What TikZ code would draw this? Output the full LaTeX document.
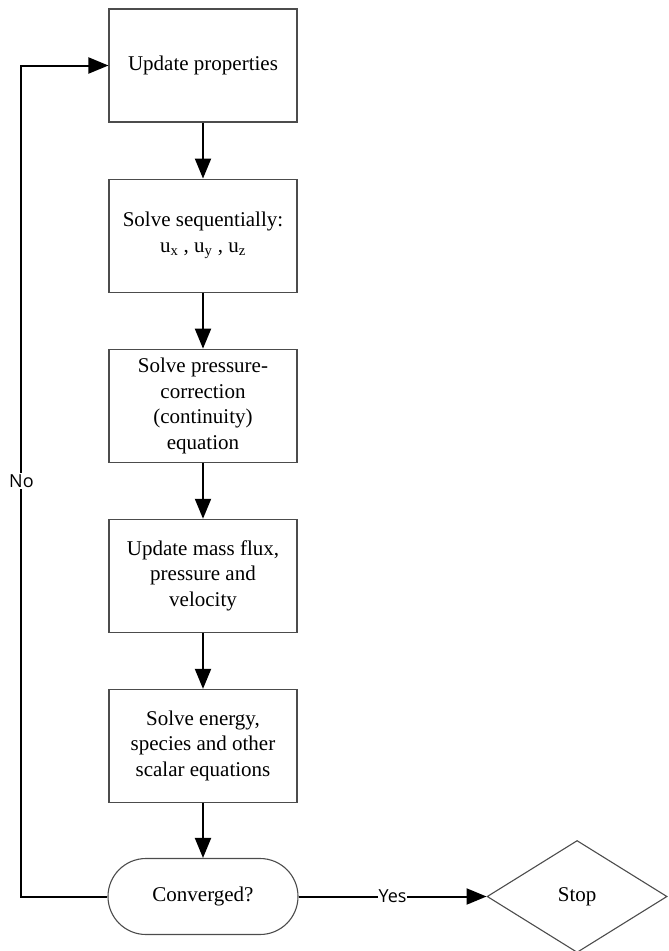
\documentclass[tikz,border=0pt]{standalone}
\usepackage{fontspec}
\setmainfont{Liberation Serif}
\newfontfamily\labfont{Open Sans}
\usetikzlibrary{arrows.meta,positioning,shapes.geometric}

\begin{document}
\begin{tikzpicture}[x=1pt,y=1pt,
  blk/.style={draw=black!70,line width=1.1pt,minimum width=188pt,minimum height=113pt,
              align=center,inner sep=0pt,font=\fontsize{21}{25.5}\selectfont},
  term/.style={blk,minimum width=190pt,minimum height=76pt,rounded corners=38pt},
  stopblk/.style={diamond,draw=black!70,line width=1.1pt,minimum width=180pt,
              minimum height=112pt,inner sep=0pt,font=\fontsize{21}{25.5}\selectfont},
  arr/.style={-{Triangle[length=20pt,width=16pt]},line width=2pt},
  lab/.style={font=\labfont\fontsize{18}{20}\selectfont,fill=white,inner sep=1pt},
  node distance=56pt and 188pt
]
\useasboundingbox (0,0) rectangle (669,-951);

% SIMPLE loop
\node[blk] (upd) at (203,-65.5) {Update properties};
\node[blk,below=of upd]  (vel)  {Solve sequentially:\\u\textsubscript{x} , u\textsubscript{y} , u\textsubscript{z}};
\node[blk,below=of vel]  (pcor) {Solve pressure-\\correction\\(continuity)\\equation};
\node[blk,below=of pcor] (flux) {Update mass flux,\\pressure and\\velocity};
\node[blk,below=of flux] (scal) {Solve energy,\\species and other\\scalar equations};

\draw[arr] (upd)  -- (vel);
\draw[arr] (vel)  -- (pcor);
\draw[arr] (pcor) -- (flux);
\draw[arr] (flux) -- (scal);

% convergence check
\node[term,below=55pt of scal] (conv) {Converged?};
\node[stopblk,right=of conv]   (stop) {Stop};

\draw[arr] (scal) -- (conv);
\draw[arr] (conv.east) -- node[lab]{Yes} (stop.west);
\draw[arr] (conv.west) -- ++(-86,0) coordinate (loopc)
           |- node[lab,pos=0.25]{No} (upd.west);

\end{tikzpicture}
\end{document}
